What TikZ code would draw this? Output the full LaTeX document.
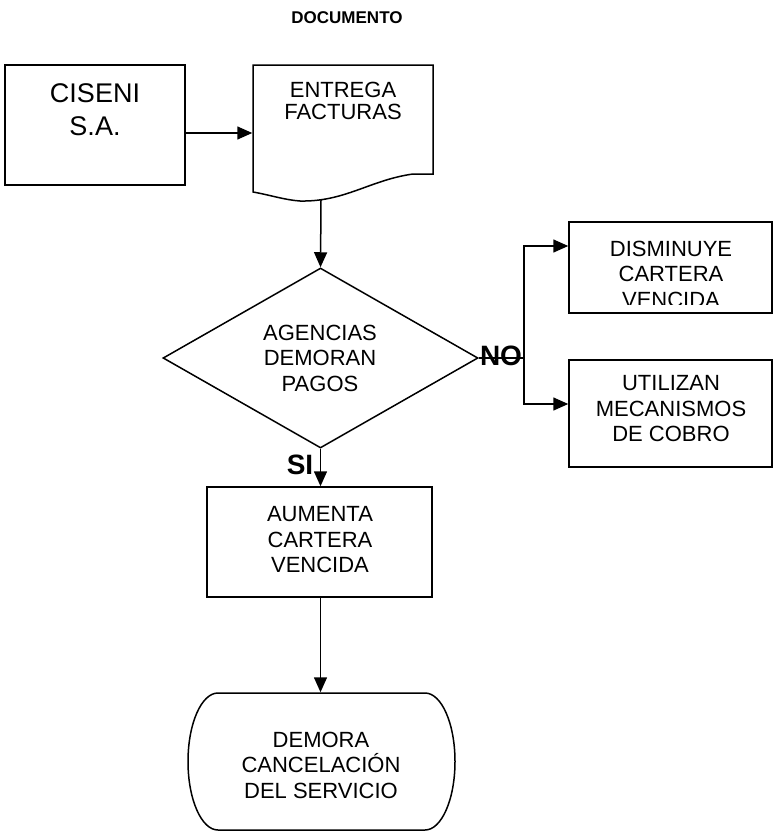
\documentclass[tikz,border=0pt]{standalone}
\usepackage{fontspec}
\setmainfont{Liberation Sans}
\usetikzlibrary{arrows.meta,shapes.geometric}
\begin{document}
\begin{tikzpicture}[x=1pt,y=-1pt, line width=1.5pt,
  arr/.style={-{Triangle[length=15pt,width=13pt]}},
  box/.style={draw, rectangle, inner sep=0pt},
  shapebox/.style={rectangle, inner sep=0pt},
  txt/.style={align=center, font=\fontsize{22}{25.5}\selectfont, inner sep=0pt},
  lbl/.style={font=\bfseries\fontsize{28}{30}\selectfont, inner sep=0pt},
]
\useasboundingbox (0,0) rectangle (773,835);

% title
\node[font=\bfseries\fontsize{17}{20}\selectfont, inner sep=0pt] (title) at (347,18) {DOCUMENTO};

% CISENI
\node[box, minimum width=180pt, minimum height=120pt] (ciseni) at (95,125) {};
\node[txt, font=\fontsize{27}{33}\selectfont] (cisenit) at (95,110) {CISENI\\S.A.};

% document shape
\node[shapebox, minimum width=180pt, minimum height=135pt] (docn) at (343,132.5) {};
\draw (253,65) -- (433,65) -- (433,174) -- (413,174)
  .. controls (370,180) and (345,202) .. (300,201)
  .. controls (285,200) and (270,195) .. (253,192) -- cycle;
\node[txt, font=\fontsize{22}{22}\selectfont] (doct) at (343,101) {ENTREGA\\FACTURAS};
\coordinate (docb) at (321,200);

% diamond
\node[diamond, draw, minimum width=315pt, minimum height=180pt, inner sep=0pt] (dia) at (320.5,358) {};
\node[txt] (diat) at (320,358) {AGENCIAS\\DEMORAN\\PAGOS};

% right boxes
\node[box, minimum width=203pt, minimum height=91pt] (dis) at (670.5,267.5) {};
\begin{scope}
  \clip (569,222) rectangle (772,304);
  \node[txt] (dist) at (671,274) {DISMINUYE\\CARTERA\\VENCIDA};
\end{scope}
\node[box, minimum width=203pt, minimum height=107pt] (uti) at (670.5,413.5) {};
\node[txt] (utit) at (671,409) {UTILIZAN\\MECANISMOS\\DE COBRO};

% aumenta
\node[box, minimum width=225pt, minimum height=110pt] (aum) at (319.5,542) {};
\node[txt] (aumt) at (320,540) {AUMENTA\\CARTERA\\VENCIDA};

% terminal
\node[shapebox, minimum width=267pt, minimum height=137pt] (term) at (321.5,761.5) {};
\draw (218,693) -- (425,693) arc[start angle=90, end angle=-90, x radius=30pt, y radius=68.5pt]
  -- (218,830) arc[start angle=270, end angle=90, x radius=30pt, y radius=68.5pt] -- cycle;
\node[txt] (termt) at (321,765) {DEMORA\\CANCELACIÓN\\DEL SERVICIO};

% connectors
\draw[arr] ([yshift=-8pt]ciseni.east) -- ([yshift=-8pt]ciseni.east -| docn.west);
\draw[arr] (docb) -- (dia.north);
\coordinate (j) at (524,358);
\coordinate (ja) at (524,246);
\coordinate (jb) at (524,404);
\draw (dia.east) -- (j);
\draw[arr] (j) -- (ja) -- (ja -| dis.west);
\draw[arr] (j) -- (jb) -- (jb -| uti.west);
\draw[arr] (dia.south) -- (dia.south |- aum.north);
\draw[arr] (dia.south |- aum.south) -- (dia.south |- term.north);

% labels
\node[lbl] (no) at (501,356) {NO};
\node[lbl] (si) at (300,465) {SI};
\end{tikzpicture}
\end{document}
